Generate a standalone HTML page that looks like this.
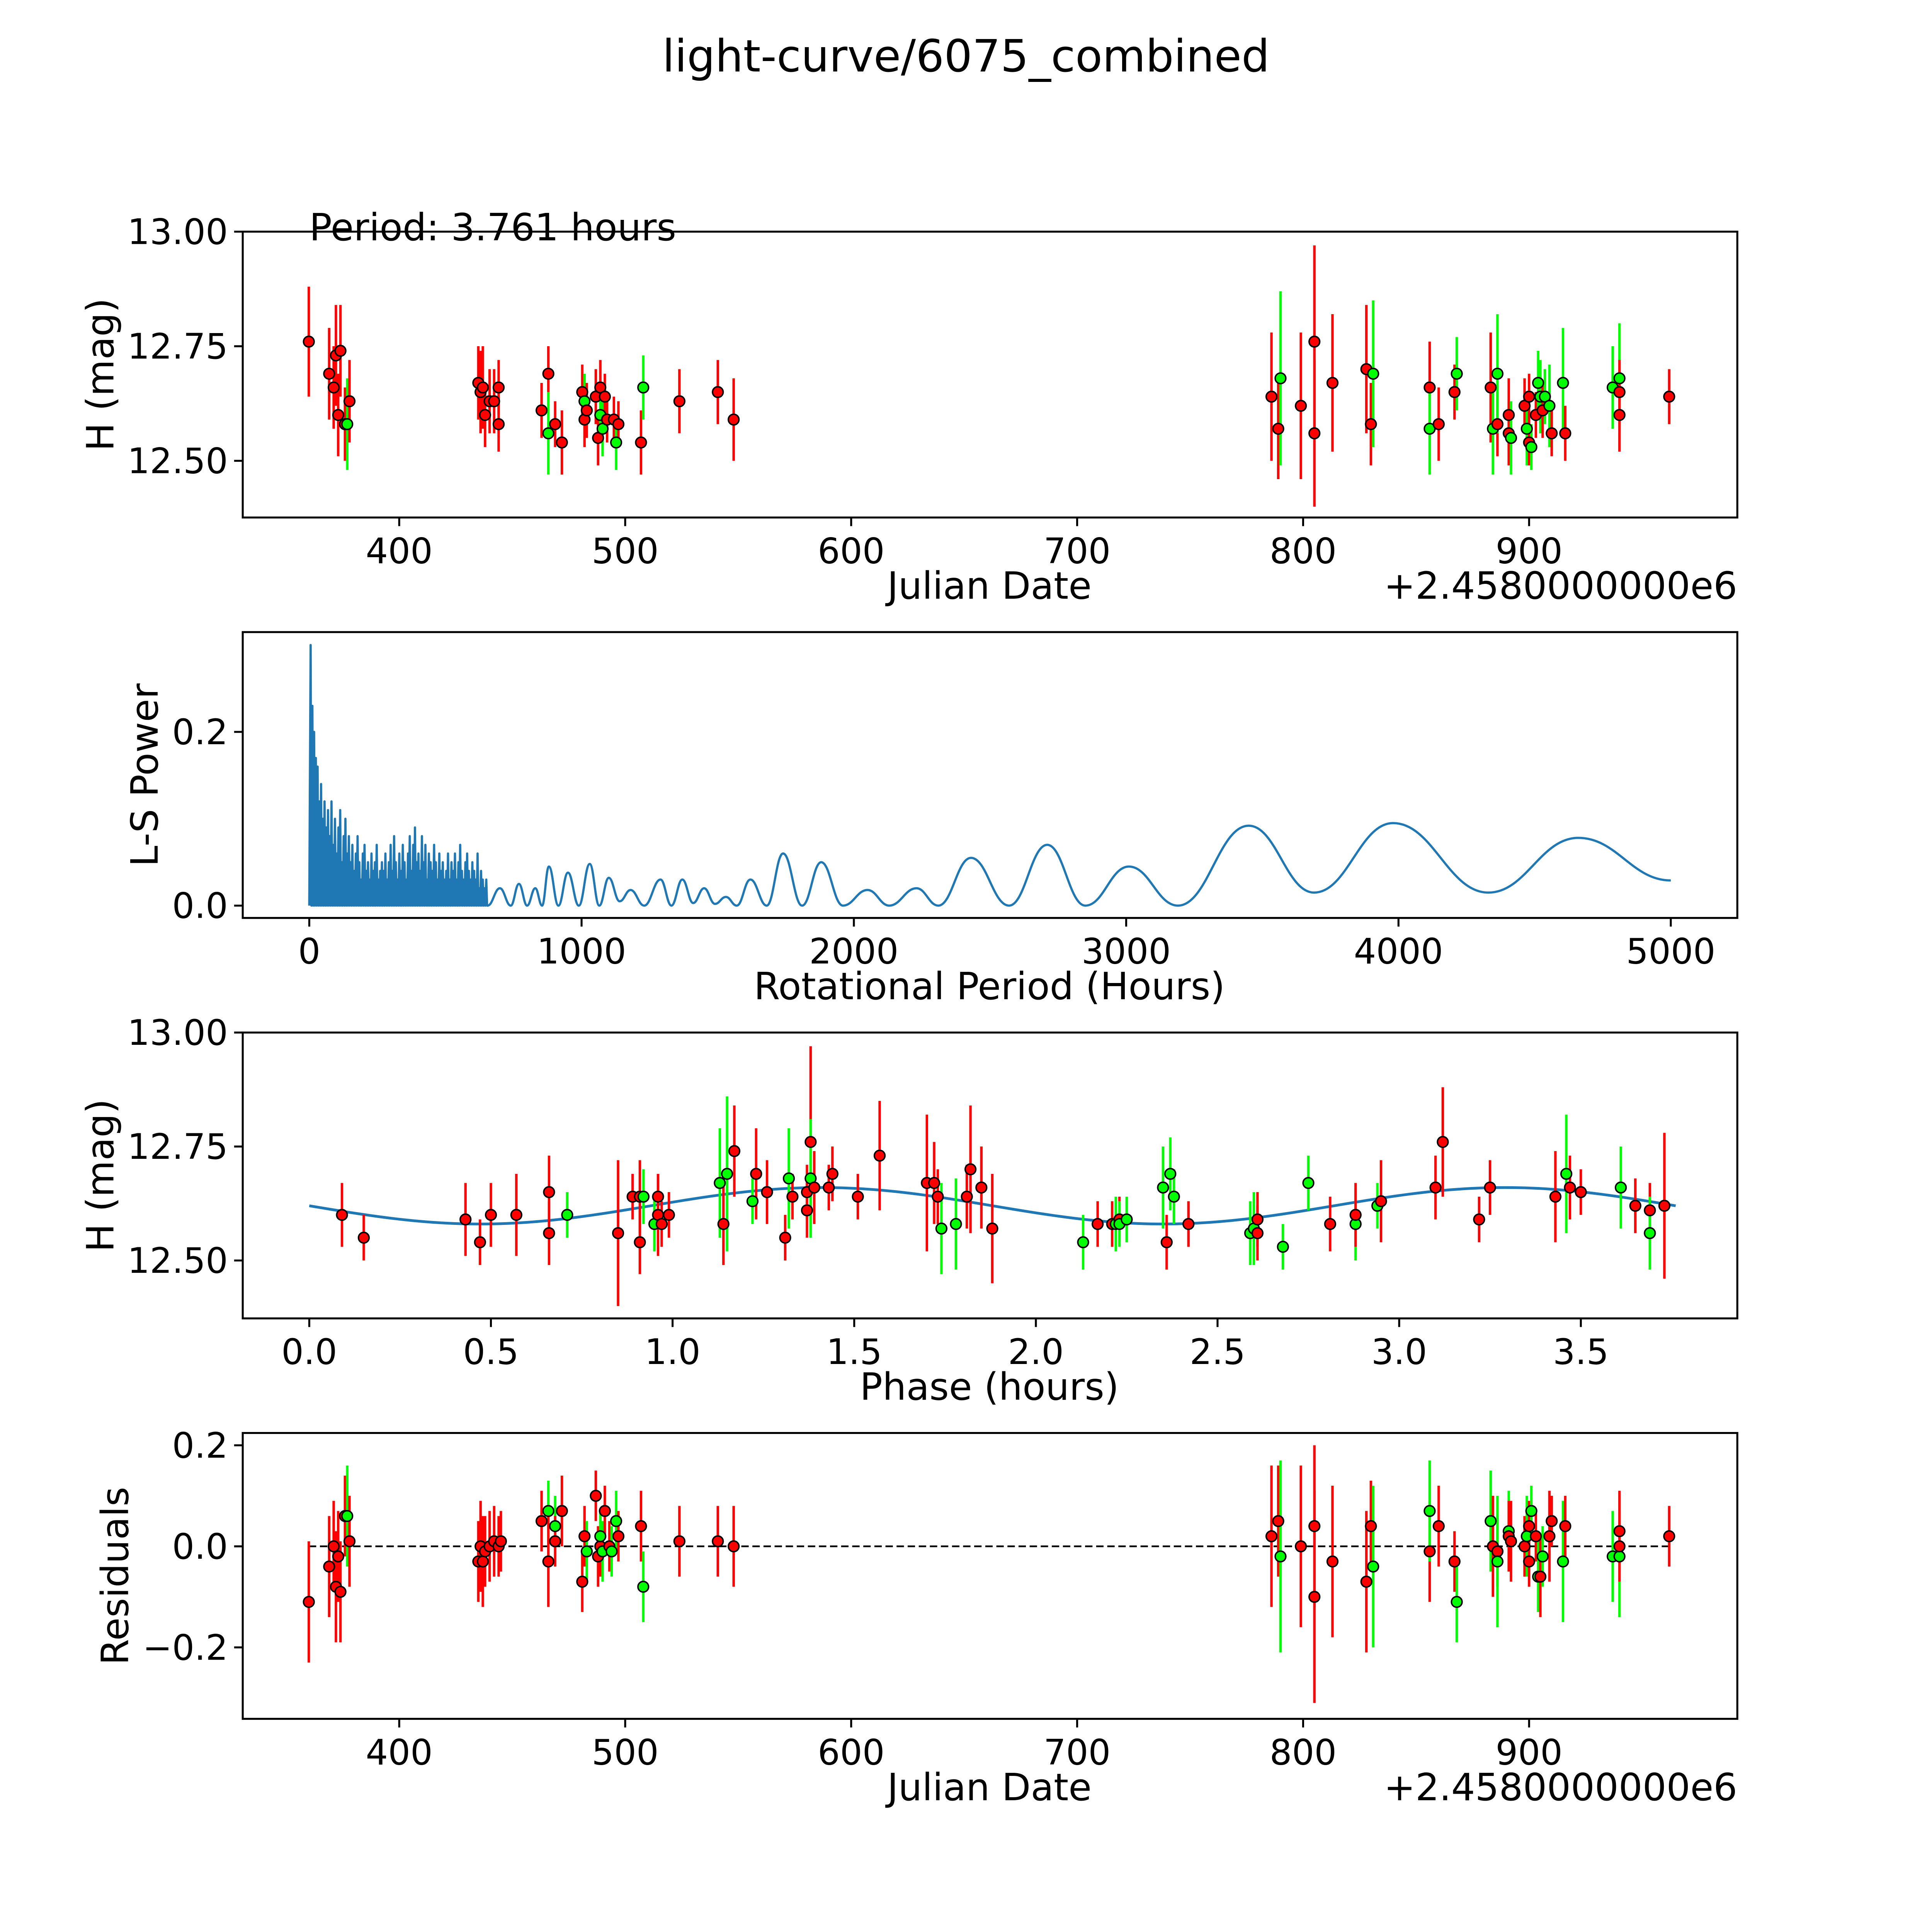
<!DOCTYPE html>
<html><head><meta charset="utf-8"><style>
html,body{margin:0;padding:0;background:#fff;overflow:hidden;width:100vw;height:100vh}
svg{display:block;width:100vw;height:100vh}
text{font-family:"DejaVu Sans","Liberation Sans",sans-serif;fill:#000}
</style></head><body>
<svg id="fig" xmlns="http://www.w3.org/2000/svg" viewBox="0 0 1568 1568" preserveAspectRatio="none">
<rect width="1568" height="1568" fill="#fff"/>
<text x="784" y="58" font-size="36" text-anchor="middle">light-curve/6075_combined</text>
<g id="g"></g>
</svg>
<script>
// ---------- data ----------
const lcJD=[360,369,371,372,374,373,376,377,378,435,436,437,438,440,442,444,444,463,466,466,469,472,481,482,482,483,487,488,489,489,490,491,492,495,496,497,507,508,524,541,548,786,789,790,799,805,805,813,828,830,831,856,856,860,867,868,883,884,886,886,891,891,892,898,899,900,900,901,903,904,905,906,907,909,910,915,916,937,940,940,940,962];
const lcMag=[12.76,12.69,12.66,12.73,12.74,12.60,12.58,12.58,12.63,12.67,12.65,12.66,12.60,12.63,12.63,12.66,12.58,12.61,12.69,12.56,12.58,12.54,12.65,12.63,12.59,12.61,12.64,12.55,12.66,12.60,12.57,12.64,12.59,12.59,12.54,12.58,12.54,12.66,12.63,12.65,12.59,12.64,12.57,12.68,12.62,12.76,12.56,12.67,12.70,12.58,12.69,12.66,12.57,12.58,12.65,12.69,12.66,12.57,12.58,12.69,12.60,12.56,12.55,12.62,12.57,12.64,12.54,12.53,12.60,12.67,12.64,12.61,12.64,12.62,12.56,12.67,12.56,12.66,12.68,12.65,12.60,12.64];
const lcErr=[0.12,0.10,0.09,0.11,0.10,0.09,0.08,0.10,0.09,0.08,0.09,0.09,0.07,0.07,0.07,0.06,0.06,0.06,0.06,0.09,0.05,0.07,0.06,0.06,0.06,0.06,0.06,0.06,0.06,0.05,0.06,0.05,0.05,0.05,0.06,0.05,0.07,0.07,0.07,0.07,0.09,0.14,0.11,0.19,0.16,0.21,0.16,0.15,0.14,0.09,0.16,0.10,0.10,0.08,0.06,0.08,0.12,0.10,0.07,0.13,0.08,0.07,0.08,0.06,0.08,0.05,0.05,0.05,0.05,0.07,0.08,0.06,0.06,0.09,0.05,0.12,0.06,0.09,0.12,0.07,0.08,0.06];
const lcCol=['r','r','r','r','r','r','r','g','r','r','r','r','r','r','r','r','r','r','r','g','r','r','r','g','r','r','r','r','r','g','g','r','r','r','g','r','r','g','r','r','r','r','r','g','r','r','r','r','r','r','g','r','g','r','r','g','r','g','r','g','r','r','g','r','g','r','r','g','r','g','g','r','g','g','r','g','r','g','g','r','r','r'];

const resJD=[360,369,371,372,373,374,376,377,378,435,436,437,438,440,442,444,445,463,466,466,469,469,472,481,482,483,487,488,489,489,490,491,493,494,496,497,507,508,524,541,548,786,789,790,799,805,805,813,828,830,831,856,856,860,867,868,883,884,886,886,891,891,892,898,899,900,900,901,903,904,905,906,909,910,915,916,937,940,940,940,962];
const resVal=[-0.11,-0.04,0.00,-0.08,-0.02,-0.09,0.06,0.06,0.01,-0.03,0.00,-0.03,-0.01,0.00,0.01,0.00,0.01,0.05,0.07,-0.03,0.04,0.01,0.07,-0.07,0.02,-0.01,0.10,-0.02,0.00,0.02,-0.01,0.07,0.00,-0.01,0.05,0.02,0.04,-0.08,0.01,0.01,0.00,0.02,0.05,-0.02,0.00,-0.10,0.04,-0.03,-0.07,0.04,-0.04,-0.01,0.07,0.04,-0.03,-0.11,0.05,0.00,-0.01,-0.03,0.03,0.02,0.01,0.00,0.02,0.04,-0.03,0.07,0.02,-0.06,-0.06,-0.02,0.02,0.05,-0.03,0.04,-0.02,-0.02,0.00,0.03,0.02];
const resErr=[0.12,0.10,0.09,0.11,0.09,0.10,0.08,0.10,0.09,0.08,0.09,0.09,0.07,0.07,0.07,0.06,0.06,0.06,0.06,0.09,0.06,0.05,0.07,0.06,0.06,0.06,0.05,0.06,0.06,0.05,0.06,0.05,0.05,0.05,0.06,0.05,0.07,0.07,0.07,0.07,0.08,0.14,0.11,0.19,0.16,0.21,0.16,0.15,0.14,0.09,0.16,0.10,0.10,0.08,0.06,0.08,0.10,0.10,0.07,0.13,0.08,0.07,0.08,0.06,0.08,0.05,0.05,0.05,0.05,0.07,0.08,0.06,0.09,0.05,0.12,0.06,0.09,0.12,0.07,0.08,0.06];
const resCol=['r','r','r','r','r','r','r','g','r','r','r','r','r','r','r','r','r','r','g','r','g','r','r','r','r','g','r','r','r','g','g','r','r','g','g','r','r','g','r','r','r','r','r','g','r','r','r','r','r','r','g','r','g','r','r','g','g','r','r','g','g','r','r','r','g','r','r','g','r','g','r','g','r','r','g','r','g','g','r','r','r'];

const phX=[0.09,0.15,0.43,0.47,0.50,0.57,0.66,0.66,0.71,0.85,0.89,0.91,0.91,0.92,0.95,0.96,0.96,0.97,0.99,1.13,1.14,1.15,1.17,1.22,1.23,1.26,1.31,1.32,1.33,1.37,1.37,1.38,1.38,1.39,1.43,1.44,1.51,1.57,1.70,1.72,1.73,1.74,1.78,1.81,1.82,1.85,1.88,2.13,2.17,2.21,2.22,2.23,2.23,2.25,2.35,2.36,2.37,2.38,2.42,2.59,2.60,2.61,2.61,2.68,2.75,2.81,2.88,2.88,2.94,2.95,3.10,3.12,3.22,3.25,3.43,3.46,3.47,3.50,3.61,3.65,3.69,3.69,3.73];
const phMag=[12.60,12.55,12.59,12.54,12.60,12.60,12.65,12.56,12.60,12.56,12.64,12.64,12.54,12.64,12.58,12.64,12.60,12.58,12.60,12.67,12.58,12.69,12.74,12.63,12.69,12.65,12.55,12.68,12.64,12.61,12.65,12.76,12.68,12.66,12.66,12.69,12.64,12.73,12.67,12.67,12.64,12.57,12.58,12.64,12.70,12.66,12.57,12.54,12.58,12.58,12.58,12.59,12.58,12.59,12.66,12.54,12.69,12.64,12.58,12.56,12.57,12.59,12.56,12.53,12.67,12.58,12.58,12.60,12.62,12.63,12.66,12.76,12.59,12.66,12.64,12.69,12.66,12.65,12.66,12.62,12.61,12.56,12.62];
const phErr=[0.07,0.05,0.08,0.05,0.07,0.09,0.08,0.07,0.05,0.16,0.05,0.08,0.07,0.06,0.06,0.05,0.09,0.05,0.05,0.12,0.09,0.17,0.10,0.05,0.10,0.07,0.05,0.11,0.05,0.06,0.06,0.21,0.13,0.08,0.05,0.06,0.05,0.12,0.15,0.09,0.06,0.10,0.10,0.07,0.14,0.09,0.12,0.06,0.05,0.05,0.06,0.05,0.05,0.05,0.09,0.06,0.08,0.06,0.05,0.07,0.08,0.06,0.06,0.05,0.06,0.06,0.08,0.07,0.05,0.09,0.07,0.12,0.05,0.06,0.10,0.13,0.07,0.05,0.09,0.06,0.06,0.08,0.16];
const phCol=['r','r','r','r','r','r','r','r','g','r','r','r','r','g','g','r','r','r','r','g','r','g','r','g','r','r','r','g','r','r','r','r','g','r','r','r','r','r','r','r','r','g','g','r','r','r','r','g','r','r','g','r','g','g','g','r','g','g','r','g','g','r','r','g','g','r','g','r','g','r','r','r','r','r','r','g','r','r','g','r','r','g','r'];
// model fit parameters: [mean mag, amplitude, half period (hours)]
const modelParams=[12.62,0.04,1.8805];

// Lomb-Scargle periodogram: noisy region peak heights (0..650 h) and smooth region extrema
const lsPeaks=[0.30,0.23,0.20,0.17,0.16,0.12,0.14,0.10,0.12,0.09,0.11,0.08,0.12,0.07,0.10,0.06,0.09,0.11,0.05,0.08,0.10,0.06,0.08,0.05,0.07,0.04,0.06,0.08,0.05,0.03,0.06,0.07,0.04,0.05,0.03,0.06,0.04,0.05,0.07,0.03,0.04,0.05,0.04,0.06,0.03,0.05,0.07,0.04,0.08,0.05,0.03,0.06,0.04,0.07,0.05,0.03,0.06,0.08,0.04,0.07,0.09,0.05,0.06,0.04,0.08,0.05,0.07,0.03,0.06,0.05,0.04,0.07,0.05,0.03,0.06,0.04,0.05,0.03,0.04,0.06,0.03,0.05,0.04,0.06,0.03,0.05,0.07,0.04,0.03,0.05,0.06,0.04,0.03,0.05,0.04,0.03,0.06,0.02,0.04,0.03,0.02,0.03];
const lsSmoothP=[655,700,740,770,800,830,855,880,915,950,990,1030,1065,1100,1140,1180,1230,1290,1330,1370,1410,1450,1490,1530,1570,1620,1680,1740,1810,1880,1960,2050,2130,2230,2310,2430,2570,2710,2850,3010,3190,3450,3690,3980,4330,4660,5000];
const lsSmoothV=[0.0,0.02,0.0,0.025,0.0,0.02,0.0,0.045,0.0,0.038,0.0,0.048,0.0,0.032,0.005,0.018,0.0,0.03,0.0,0.03,0.003,0.02,0.002,0.01,0.0,0.03,0.0,0.06,0.0,0.05,0.0,0.018,0.0,0.02,0.0,0.055,0.0,0.07,0.0,0.045,0.0,0.092,0.015,0.095,0.015,0.078,0.029];

// ---------- drawing ----------
const NS='http://www.w3.org/2000/svg';
const G=document.getElementById('g');
function el(tag,attrs,parent){const e=document.createElementNS(NS,tag);for(const k in attrs)e.setAttribute(k,attrs[k]);(parent||G).appendChild(e);return e;}
function txt(s,attrs,parent){const t=el('text',attrs,parent);t.textContent=s;return t;}
const L=197,R=1410;
function lin(d0,d1,r0,r1){return v=>r0+(v-d0)*(r1-r0)/(d1-d0);}
const COL={r:'#ff0000',g:'#00ff00'};

function axes(name,top,bot,xs,xt,xl,ys,yt,yl,xlabel,ylabel,ylx){
  const g=el('g',{});
  
  
  xt.forEach((v,i)=>{const x=xs(v);
    const tk=el('line',{x1:x,x2:x,y1:bot,y2:bot+7,stroke:'#000','stroke-width':1.6},g);
    
    const t=txt(xl[i],{x:x,y:bot+37,'font-size':28.5,'text-anchor':'middle'},g);
    });
  yt.forEach((v,i)=>{const y=ys(v);
    const tk=el('line',{x1:L-7,x2:L,y1:y,y2:y,stroke:'#000','stroke-width':1.6},g);
    
    const t=txt(yl[i],{x:L-12,y:y+10,'font-size':28.5,'text-anchor':'end'},g);
    });
  const xlab=txt(xlabel,{x:803,y:bot+66,'font-size':30.5,'text-anchor':'middle'},g);
  
  const cy=(top+bot)/2;
  const ylab=txt(ylabel,{x:0,y:0,'font-size':30.5,'text-anchor':'middle',transform:`translate(${ylx},${cy}) rotate(-90)`},g);
  
  return g;
}
function frame(top,bot){const f=el('rect',{x:L,y:top,width:R-L,height:bot-top,fill:'none',stroke:'#000','stroke-width':1.6});
  }
function points(xs,ys,X,Y,E,C,name){
  const g=el('g',{});
  
  
  X.forEach((v,i)=>{const x=xs(v);
    const b=el('line',{x1:x,x2:x,y1:ys(Y[i]-E[i]),y2:ys(Y[i]+E[i]),stroke:COL[C[i]],'stroke-width':2},g);
    });
  X.forEach((v,i)=>{const c=el('circle',{cx:xs(v),cy:ys(Y[i]),r:4.3,fill:COL[C[i]],stroke:'#000','stroke-width':1.2},g);
    });
}

// Panel 1: light curve
{const top=188,bot=420;const xs=lin(400,900,324,1241),ys=lin(13,12.5,188,374);
 axes('light-curve-axes',top,bot,xs,[400,500,600,700,800,900],['400','500','600','700','800','900'],ys,[12.5,12.75,13],['12.50','12.75','13.00'],'Julian Date','H (mag)',92);
 points(xs,ys,lcJD,lcMag,lcErr,lcCol,'light-curve-points');
 frame(top,bot);
 const off=txt('+2.4580000000e6',{x:R,y:bot+66,'font-size':30.5,'text-anchor':'end'});
 
 const p=txt('Period: 3.761 hours',{x:251,y:195,'font-size':30.5});
 }

// Panel 2: periodogram
{const top=513,bot=745;const xs=lin(0,5000,251,1356),ys=lin(0,0.2,735,594);
 axes('periodogram-axes',top,bot,xs,[0,1000,2000,3000,4000,5000],['0','1000','2000','3000','4000','5000'],ys,[0,0.2],['0.0','0.2'],'Rotational Period (Hours)','L-S Power',128);
 let d=`M${xs(0)},${ys(0)}`;
 const n=lsPeaks.length;
 lsPeaks.forEach((v,i)=>{const p=5+i*645/(n-1);
   d+=` L${xs(p)},${ys(v)} L${xs(p+3)},${ys(0)}`;});
 d+=` L${xs(lsSmoothP[0])},${ys(lsSmoothV[0])}`;
 for(let i=1;i<lsSmoothP.length;i++){
   const x0=xs(lsSmoothP[i-1]),y0=ys(lsSmoothV[i-1]),x1=xs(lsSmoothP[i]),y1=ys(lsSmoothV[i]);
   const dx=(x1-x0)*0.42;
   d+=` C${x0+dx},${y0} ${x1-dx},${y1} ${x1},${y1}`;}
 const path=el('path',{d:d,fill:'none',stroke:'#1f77b4','stroke-width':1.8,'stroke-linejoin':'round'});
 
 frame(top,bot);}

// Panel 3: phased
{const top=838,bot=1070;const xs=lin(0,3.5,251,1283),ys=lin(13,12.5,838,1023);
 axes('phase-axes',top,bot,xs,[0,0.5,1,1.5,2,2.5,3,3.5],['0.0','0.5','1.0','1.5','2.0','2.5','3.0','3.5'],ys,[12.5,12.75,13],['12.50','12.75','13.00'],'Phase (hours)','H (mag)',92);
 let d='';
 for(let k=0;k<=200;k++){const ph=3.761*k/200;
   const m=modelParams[0]-modelParams[1]*Math.sin(2*Math.PI*ph/modelParams[2]);
   d+=(k?' L':'M')+xs(ph)+','+ys(m);}
 const mp=el('path',{d:d,fill:'none',stroke:'#1f77b4','stroke-width':2.2});
 
 points(xs,ys,phX,phMag,phErr,phCol,'phase-points');
 frame(top,bot);}

// Panel 4: residuals
{const top=1163,bot=1395;const xs=lin(400,900,324,1241),ys=lin(0,0.2,1255,1173);
 axes('residual-axes',top,bot,xs,[400,500,600,700,800,900],['400','500','600','700','800','900'],ys,[-0.2,0,0.2],['\u22120.2','0.0','0.2'],'Julian Date','Residuals',104);
 const z=el('line',{x1:xs(360),x2:xs(962),y1:ys(0),y2:ys(0),stroke:'#000','stroke-width':1.4,'stroke-dasharray':'6,3'});
 
 points(xs,ys,resJD,resVal,resErr,resCol,'residual-points');
 frame(top,bot);
 const off=txt('+2.4580000000e6',{x:R,y:bot+66,'font-size':30.5,'text-anchor':'end'});
 }
</script>
</body></html>
